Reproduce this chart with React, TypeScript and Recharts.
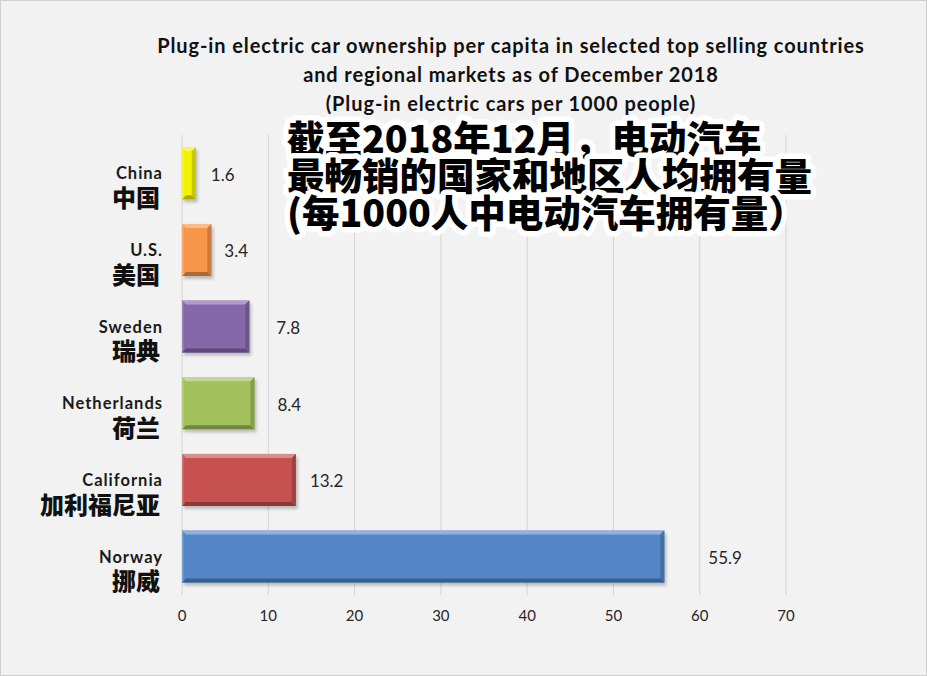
import React from 'react';
import { BarChart, Bar, XAxis, YAxis, CartesianGrid, Cell, LabelList } from 'recharts';

// ---- data ----
const categoriesEn = ['China', 'U.S.', 'Sweden', 'Netherlands', 'California', 'Norway'];
const categoriesZh = ['中国', '美国', '瑞典', '荷兰', '加利福尼亚', '挪威'];
const values = [1.6, 3.4, 7.8, 8.4, 13.2, 55.9];
const xTicks = [0, 10, 20, 30, 40, 50, 60, 70];
const titleEn = [
  'Plug-in electric car ownership per capita in selected top selling countries',
  'and regional markets as of December 2018',
  '(Plug-in electric cars per 1000 people)',
];
const titleZh = ['截至2018年12月，电动汽车', '最畅销的国家和地区人均拥有量', '(每1000人中电动汽车拥有量）'];

// ---- styles ----
const barColors = ['#f2f200', '#f7964a', '#8567aa', '#a2c15d', '#c6514e', '#5587c8'];
const labelGaps = [15, 13, 27, 23, 14, 44];

const data = categoriesEn.map((en, i) => ({ en, zh: categoriesZh[i], value: values[i] }));

function shade(hex: string, amt: number) {
  const n = parseInt(hex.slice(1), 16);
  let r = (n >> 16) & 255, g = (n >> 8) & 255, b = n & 255;
  const f = (c: number) => Math.max(0, Math.min(255, Math.round(amt >= 0 ? c + (255 - c) * amt : c * (1 + amt))));
  r = f(r); g = f(g); b = f(b);
  return `rgb(${r},${g},${b})`;
}

const BevelBar = (props: any) => {
  const { x, y, width, height, fill } = props;
  if (width == null || height == null) return null;
  const b = Math.min(4, width / 3);
  return (
    <g>
      <rect x={x + 2} y={y + 3} width={width} height={height} fill="rgba(0,0,0,0.22)" style={{ filter: 'blur(1.5px)' }} />
      <rect x={x} y={y} width={width} height={height} fill={fill} />
      <polygon points={`${x},${y} ${x + width},${y} ${x + width - b},${y + b} ${x + b},${y + b}`} fill={shade(fill, 0.35)} />
      <polygon points={`${x},${y + height} ${x + width},${y + height} ${x + width - b},${y + height - b} ${x + b},${y + height - b}`} fill={shade(fill, -0.3)} />
      <polygon points={`${x + width},${y} ${x + width},${y + height} ${x + width - b},${y + height - b} ${x + width - b},${y + b}`} fill={shade(fill, -0.18)} />
      <polygon points={`${x},${y} ${x},${y + height} ${x + 1.5},${y + height - 1.5} ${x + 1.5},${y + 1.5}`} fill={shade(fill, 0.2)} />
    </g>
  );
};

const YTick = (props: any) => {
  const { x, y, payload, index } = props;
  const i = categoriesEn.indexOf(payload.value);
  return (
    <g>
      <text x={x - 19} y={y} textAnchor="end" dominantBaseline="central" fontFamily="Lato, 'Noto Sans', sans-serif" fontWeight={700} fontSize={16.5} letterSpacing={1} fill="#1a1a1a">
        {payload.value}
      </text>
      <text x={x - 22} y={y + 23} textAnchor="end" dominantBaseline="central" fontFamily="'Noto Sans CJK SC', sans-serif" fontWeight={900} fontSize={24} fill="#111">
        {categoriesZh[i >= 0 ? i : index]}
      </text>
    </g>
  );
};

const XTick = (props: any) => {
  const { x, y, payload } = props;
  return (
    <text x={x} y={y + 20} textAnchor="middle" dominantBaseline="central" fontFamily="Lato, 'Noto Sans', sans-serif" fontSize={15} fill="#262626">
      {payload.value}
    </text>
  );
};

const ValueLabel = (props: any) => {
  const { x, y, width, height, value, index } = props;
  let i = typeof index === 'number' ? index : values.indexOf(value);
  if (i < 0) i = 0;
  return (
    <text x={x + width + labelGaps[i]} y={y + height / 2 + 1} dominantBaseline="central" fontFamily="Lato, 'Noto Sans', sans-serif" fontSize={17} fill="#262626">
      {value}
    </text>
  );
};

export default function App() {
  return (
    <div style={{ position: 'relative', width: 927, height: 676, background: '#f2f2f2', border: '1px solid #cfcfcf', boxSizing: 'border-box', overflow: 'hidden' }}>
      <style>{`body{margin:0}`}</style>
      <div style={{ position: 'absolute', left: -1, top: -1 }}>
        <BarChart
          width={927}
          height={676}
          data={data}
          layout="vertical"
          margin={{ top: 135, right: 141, bottom: 51, left: 0 }}
          barCategoryGap="16%"
        >
          <CartesianGrid horizontal={false} stroke="#d4d4d4" strokeWidth={1} />
          <XAxis
            type="number"
            domain={[0, 70]}
            ticks={xTicks}
            axisLine={false}
            tickLine={false}
            tickSize={0}
            tickMargin={0}
            height={30}
            tick={<XTick />}
            interval={0}
          />
          <YAxis
            type="category"
            dataKey="en"
            width={182}
            axisLine={false}
            tickLine={false}
            tickSize={0}
            tickMargin={0}
            tick={<YTick />}
            interval={0}
          />
          <Bar dataKey="value" isAnimationActive={false} shape={<BevelBar />}>
            {data.map((d, i) => (
              <Cell key={d.en} fill={barColors[i]} />
            ))}
            <LabelList dataKey="value" content={<ValueLabel />} />
          </Bar>
        </BarChart>
      </div>
      <svg width={927} height={676} style={{ position: 'absolute', left: -1, top: -1, pointerEvents: 'none' }}>
        {titleEn.map((t, i) => (
          <text key={t} x={511} y={45 + i * 29} textAnchor="middle" dominantBaseline="central" fontFamily="Lato, 'Noto Sans', sans-serif" fontWeight={700} fontSize={20} letterSpacing={0.9} fill="#111">
            {t}
          </text>
        ))}
        {titleZh.map((t, i) => (
          <text
            key={t}
            x={287}
            y={136 + i * 37}
            dominantBaseline="central"
            fontFamily="'Noto Sans CJK SC', sans-serif"
            fontWeight={900}
            fontSize={37.5}
            fill="#000"
            stroke="#fff"
            strokeWidth={11}
            strokeLinejoin="round"
            paintOrder="stroke"
          >
            {t}
          </text>
        ))}
      </svg>
    </div>
  );
}
